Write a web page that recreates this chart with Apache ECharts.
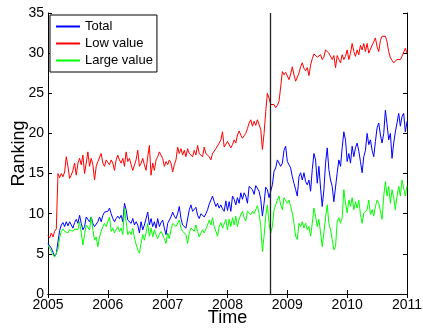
<!DOCTYPE html>
<html>
<head>
<meta charset="utf-8">
<script src="https://cdn.jsdelivr.net/npm/echarts@6/dist/echarts.min.js"></script>
<style>
  html, body { margin: 0; padding: 0; background: #ffffff; }
  #chart { width: 423px; height: 328px; }
</style>
</head>
<body>
<div id="chart"></div>
<script>
// samples every 1/36 year from 2005 to 2011
var startYear = 2005;
var stepYears = 1 / 36;
var eventTime = 2008.71;

var xTicks = [2005, 2006, 2007, 2008, 2009, 2010, 2011];
var seriesNames = ["Total", "Low value", "Large value"];

var totalValues = [
  6.3, 6.0, 5.7, 5.2, 4.7, 5.0, 6.5, 7.9, 8.6, 8.9,
  8.4, 9.0, 8.5, 9.0, 8.6, 8.2, 8.9, 9.3, 8.8, 9.8,
  8.8, 8.0, 8.4, 9.6, 9.8, 9.0, 9.6, 8.8, 8.4, 8.6,
  9.0, 9.6, 9.0, 9.8, 10.2, 10.0, 10.3, 10.7, 10.0, 9.4,
  9.0, 9.4, 9.7, 9.4, 9.8, 9.0, 11.3, 10.5, 9.2, 9.0,
  8.8, 9.4, 8.6, 9.0, 8.6, 7.6, 9.0, 8.0, 8.6, 8.6,
  10.2, 8.6, 9.4, 8.4, 9.0, 8.2, 9.4, 8.4, 8.9, 9.2,
  8.2, 7.4, 8.8, 9.0, 9.6, 10.2, 9.7, 9.4, 10.0, 10.9,
  9.4, 8.6, 8.8, 8.2, 8.4, 10.5, 11.1, 10.3, 10.4, 10.8,
  9.8, 9.4, 10.0, 9.8, 9.6, 10.0, 10.5, 11.2, 11.4, 12.2,
  11.5, 10.9, 11.3, 10.7, 11.1, 10.6, 10.3, 11.6, 10.4, 11.5,
  10.3, 12.2, 11.8, 11.1, 12.0, 11.3, 12.6, 11.8, 12.6, 12.2,
  11.3, 13.4, 13.3, 13.0, 12.4, 13.5, 13.6, 12.8, 11.8, 9.7,
  11.3, 13.3, 13.0, 12.0, 11.8, 13.6, 15.3, 15.7, 16.7, 16.9,
  15.9, 16.3, 17.9, 18.4, 16.5, 16.7, 15.7, 14.6, 13.8, 13.0,
  12.2, 14.6, 15.1, 14.2, 15.1, 14.0, 13.6, 14.2, 12.8, 15.5,
  17.5, 16.7, 13.8, 15.9, 13.2, 10.9, 13.0, 16.3, 18.2, 15.5,
  14.2, 13.4, 11.5, 11.3, 15.1, 16.7, 15.9, 18.2, 20.2, 19.2,
  16.5, 17.5, 16.3, 18.4, 17.1, 18.2, 18.8, 17.8, 16.5, 15.1,
  17.1, 17.9, 20.0, 18.6, 19.2, 17.9, 17.1, 19.0, 20.7, 21.3,
  19.8, 18.8, 20.0, 22.9, 21.1, 19.2, 20.0, 16.9, 18.8, 20.2,
  21.3, 22.5, 20.9, 22.1, 22.5, 20.2, 21.5
];

var lowValues = [
  7.3, 7.0, 7.6, 7.1, 7.8, 8.1, 15.0, 14.5, 15.0, 14.6,
  15.2, 17.1, 15.9, 14.4, 14.8, 15.4, 16.3, 14.8, 16.3, 16.9,
  16.1, 17.3, 15.0, 16.3, 17.7, 15.9, 16.9, 16.1, 14.2, 15.9,
  16.5, 16.3, 17.5, 16.3, 15.9, 16.7, 16.5, 16.1, 16.7, 16.3,
  15.4, 16.7, 17.3, 16.7, 16.3, 16.9, 15.9, 17.7, 16.5, 16.9,
  16.1, 15.4, 15.6, 16.7, 17.9, 15.9, 16.3, 16.9, 16.1, 15.4,
  17.1, 18.5, 14.8, 16.3, 15.4, 16.7, 17.1, 17.7, 17.5, 16.9,
  15.9, 16.5, 16.1, 16.7, 16.3, 15.2, 16.1, 16.7, 18.3, 17.5,
  18.1, 17.3, 17.9, 17.1, 18.1, 17.5, 17.7, 17.1, 17.9, 17.3,
  18.5, 17.5, 17.7, 17.1, 18.3, 17.5, 17.7, 17.1, 16.7, 17.5,
  17.3, 18.1, 17.9, 18.8, 19.2, 20.2, 18.3, 18.1, 19.0, 19.2,
  18.2, 18.6, 19.2, 18.8, 19.8, 20.3, 19.8, 19.4, 19.7, 20.0,
  20.6, 21.3, 21.7, 20.9, 21.5, 21.0, 21.7, 21.9, 20.5, 18.0,
  20.0, 22.7, 25.0, 24.4, 23.6, 23.4, 23.6, 23.2, 23.5, 24.0,
  25.8, 27.7, 27.3, 27.6, 27.4, 26.7, 27.4, 28.3, 27.3, 26.5,
  26.4, 27.5, 28.3, 28.8, 28.1, 27.8, 28.2, 27.2, 28.5, 29.3,
  29.9, 30.1, 29.5, 29.4, 29.8, 29.2, 29.5, 30.4, 30.6, 30.0,
  30.2, 29.2, 29.7, 28.2, 29.7, 29.2, 28.8, 29.8, 29.2, 29.6,
  30.4, 29.2, 30.0, 31.2, 30.2, 29.6, 30.4, 29.8, 31.0, 30.4,
  31.2, 30.2, 31.2, 30.0, 30.2, 31.0, 31.4, 31.9, 30.8, 30.2,
  31.6, 32.1, 31.9, 32.1, 31.4, 30.2, 29.4, 29.2, 28.8, 29.0,
  29.2, 29.4, 29.2, 29.6, 29.8, 30.6, 30.0
];

var largeValues = [
  6.1, 5.7, 5.3, 4.9, 4.6, 4.7, 5.6, 7.0, 7.8, 8.1,
  7.8, 8.0, 7.6, 8.0, 7.8, 7.8, 8.1, 8.2, 8.0, 9.0,
  7.6, 6.1, 7.4, 8.6, 8.4, 8.0, 9.6, 8.0, 6.7, 7.1,
  5.9, 7.1, 7.8, 8.4, 8.8, 8.4, 8.6, 9.6, 7.8, 8.2,
  7.6, 8.0, 8.4, 7.8, 8.2, 7.4, 10.7, 9.0, 7.4, 7.8,
  7.4, 8.2, 7.0, 6.2, 5.5, 5.1, 6.3, 7.4, 6.7, 7.6,
  8.8, 7.2, 8.2, 7.1, 8.0, 7.4, 6.9, 7.4, 7.8, 8.0,
  6.9, 6.3, 7.6, 6.9, 8.0, 8.8, 8.6, 8.4, 8.2, 9.2,
  8.2, 7.8, 8.0, 7.4, 6.3, 7.6, 8.2, 8.4, 7.8, 8.6,
  7.8, 7.1, 7.6, 8.0, 7.6, 7.8, 8.6, 9.2, 8.6, 9.5,
  8.4, 7.8, 7.2, 8.4, 8.9, 8.2, 8.4, 9.3, 8.0, 9.3,
  8.4, 9.5, 8.6, 9.7, 8.4, 9.3, 9.9, 10.3, 9.5, 9.1,
  10.3, 10.2, 9.9, 10.3, 10.0, 10.1, 11.0, 10.0, 8.5, 5.3,
  7.2, 9.7, 11.1, 8.8, 7.6, 8.4, 10.5, 11.1, 11.7, 12.2,
  11.1, 10.5, 12.0, 12.2, 11.3, 11.7, 10.9, 10.1, 8.8, 7.2,
  6.8, 8.8, 8.4, 9.0, 8.2, 8.8, 8.0, 8.4, 7.2, 8.8,
  10.7, 9.7, 8.4, 9.3, 7.6, 5.9, 7.6, 9.5, 11.1, 8.8,
  8.0, 6.8, 5.5, 5.9, 9.0, 9.5, 8.8, 9.5, 13.0, 11.3,
  10.1, 11.7, 10.9, 12.0, 10.5, 11.5, 10.7, 11.7, 9.9, 8.8,
  10.1, 9.9, 10.5, 11.7, 9.9, 10.5, 9.7, 10.9, 11.7, 11.3,
  10.3, 9.3, 12.2, 14.0, 12.2, 13.4, 11.3, 13.0, 12.0, 10.5,
  12.2, 13.4, 12.2, 14.2, 14.4, 12.2, 13.5
];

var seriesColors = ["#0000ff", "#ff0000", "#00ff00"];
var fontFamily = "'Liberation Sans', Arial, Helvetica, sans-serif";

function toPairs(values) {
  return values.map(function (v, i) {
    return [startYear + i * stepYears, v];
  });
}

var chart = echarts.init(document.getElementById("chart"), null, { renderer: "canvas" });

var tickStyle = { show: true, inside: true, length: 4, lineStyle: { color: "#000", width: 1 } };
var lineStyle = { show: true, lineStyle: { color: "#000", width: 1 } };

var xBase = {
  type: "value",
  min: xTicks[0],
  max: xTicks[xTicks.length - 1],
  interval: 1,
  splitLine: { show: false },
  axisLine: lineStyle,
  axisTick: tickStyle
};
var yBase = {
  type: "value",
  min: 0,
  max: 35,
  interval: 5,
  splitLine: { show: false },
  axisLine: lineStyle,
  axisTick: tickStyle
};

var option = {
  animation: false,
  backgroundColor: "#ffffff",
  color: seriesColors,
  grid: { left: 48, right: 16, top: 13, bottom: 34, outerBoundsMode: "none", containLabel: false },
  legend: {
    orient: "vertical",
    left: 50,
    top: 15,
    data: seriesNames,
    itemWidth: 24,
    itemHeight: 14,
    itemGap: 4,
    padding: [5, 4, 5, 5],
    backgroundColor: "#ffffff",
    borderColor: "#000",
    borderWidth: 1,
    borderRadius: 0,
    itemStyle: { opacity: 0 },
    textStyle: { color: "#000", fontSize: 13, fontFamily: fontFamily }
  },
  xAxis: [
    Object.assign({}, xBase, {
      position: "bottom",
      name: "Time",
      nameLocation: "middle",
      nameGap: 15,
      nameMoveOverlap: false,
      nameTextStyle: { color: "#000", fontSize: 18, fontFamily: fontFamily },
      axisLabel: {
        color: "#000",
        fontSize: 14,
        fontFamily: fontFamily,
        margin: 4,
        formatter: function (v) { return String(v); }
      }
    }),
    Object.assign({}, xBase, { position: "top", axisLabel: { show: false } })
  ],
  yAxis: [
    Object.assign({}, yBase, {
      position: "left",
      name: "Ranking",
      nameLocation: "middle",
      nameGap: 20,
      nameMoveOverlap: false,
      nameTextStyle: { color: "#000", fontSize: 18, fontFamily: fontFamily },
      axisLabel: { color: "#000", fontSize: 14, fontFamily: fontFamily, margin: 4 }
    }),
    Object.assign({}, yBase, { position: "right", axisLabel: { show: false } })
  ],
  series: [
    {
      name: seriesNames[0],
      type: "line",
      data: toPairs(totalValues),
      symbol: "none",
      lineStyle: { width: 1 },
      markLine: {
        silent: true,
        symbol: "none",
        label: { show: false },
        lineStyle: { color: "#222", width: 1.3, type: "solid" },
        data: [{ xAxis: eventTime }]
      }
    },
    {
      name: seriesNames[1],
      type: "line",
      data: toPairs(lowValues),
      symbol: "none",
      lineStyle: { width: 1 }
    },
    {
      name: seriesNames[2],
      type: "line",
      data: toPairs(largeValues),
      symbol: "none",
      lineStyle: { width: 1 }
    }
  ]
};

chart.setOption(option, true);
</script>
</body>
</html>
